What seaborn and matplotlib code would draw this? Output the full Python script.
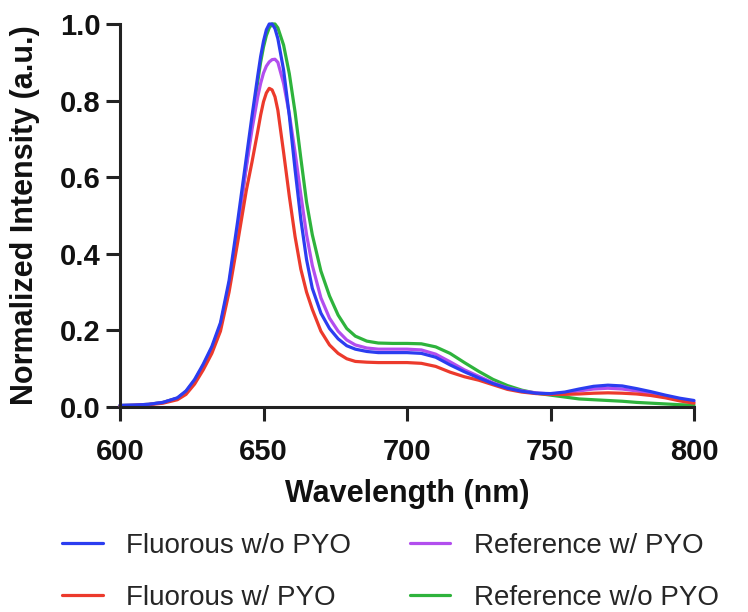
import numpy as np
import pandas as pd
import matplotlib
matplotlib.use("Agg")
import matplotlib.pyplot as plt
import seaborn as sns

wavelength = [600, 605, 610, 615, 620, 623, 626, 629, 632, 635, 638, 641, 644, 646, 648,
              649, 650, 651, 652, 653, 654, 655, 657, 659, 661, 663, 665, 667, 670, 673,
              676, 679, 682, 686, 690, 695, 700, 705, 710, 715, 720, 725, 730, 735, 740,
              745, 750, 755, 760, 765, 770, 775, 780, 785, 790, 795, 800]

fluorous_wo_pyo = [0.004, 0.005, 0.007, 0.012, 0.024, 0.042, 0.072, 0.112, 0.158, 0.220,
                   0.330, 0.485, 0.650, 0.760, 0.865, 0.915, 0.955, 0.985, 1.000, 1.000,
                   0.988, 0.962, 0.880, 0.760, 0.620, 0.490, 0.385, 0.310, 0.245, 0.205,
                   0.178, 0.160, 0.151, 0.145, 0.142, 0.142, 0.142, 0.140, 0.130, 0.110,
                   0.092, 0.076, 0.061, 0.049, 0.041, 0.036, 0.035, 0.039, 0.047, 0.054,
                   0.057, 0.055, 0.048, 0.040, 0.031, 0.023, 0.017]

fluorous_w_pyo = [0.003, 0.004, 0.006, 0.010, 0.019, 0.033, 0.060, 0.097, 0.140, 0.198,
                  0.300, 0.430, 0.565, 0.640, 0.720, 0.762, 0.797, 0.820, 0.832, 0.828,
                  0.810, 0.775, 0.665, 0.550, 0.445, 0.360, 0.300, 0.255, 0.198, 0.162,
                  0.140, 0.126, 0.119, 0.117, 0.116, 0.116, 0.116, 0.114, 0.106, 0.091,
                  0.079, 0.070, 0.058, 0.046, 0.039, 0.035, 0.033, 0.033, 0.034, 0.036,
                  0.037, 0.036, 0.034, 0.030, 0.024, 0.016, 0.010]

reference_w_pyo = [0.004, 0.005, 0.007, 0.012, 0.023, 0.040, 0.069, 0.108, 0.153, 0.213,
                   0.320, 0.470, 0.625, 0.725, 0.810, 0.845, 0.872, 0.890, 0.901, 0.907,
                   0.908, 0.900, 0.845, 0.765, 0.665, 0.555, 0.450, 0.370, 0.285, 0.232,
                   0.198, 0.175, 0.162, 0.154, 0.151, 0.151, 0.151, 0.149, 0.138, 0.118,
                   0.097, 0.080, 0.063, 0.050, 0.042, 0.037, 0.034, 0.037, 0.042, 0.047,
                   0.049, 0.047, 0.042, 0.035, 0.028, 0.020, 0.013]

reference_wo_pyo = [0.004, 0.005, 0.007, 0.012, 0.023, 0.040, 0.069, 0.108, 0.153, 0.213,
                    0.315, 0.465, 0.630, 0.740, 0.850, 0.900, 0.940, 0.970, 0.990, 1.000,
                    1.000, 0.990, 0.945, 0.870, 0.770, 0.650, 0.535, 0.450, 0.355, 0.290,
                    0.240, 0.205, 0.185, 0.172, 0.167, 0.166, 0.166, 0.165, 0.157, 0.140,
                    0.116, 0.093, 0.072, 0.056, 0.044, 0.036, 0.031, 0.026, 0.021, 0.019,
                    0.017, 0.015, 0.012, 0.010, 0.008, 0.006, 0.005]

series_names = ["Fluorous w/o PYO", "Fluorous w/ PYO", "Reference w/ PYO", "Reference w/o PYO"]
series_colors = ["#2B3DF0", "#EC3A2C", "#B24EEE", "#2EB33C"]
x_ticks = [600, 650, 700, 750, 800]
y_ticks = [0.0, 0.2, 0.4, 0.6, 0.8, 1.0]

rows = []
for name, vals in zip(series_names,
                      [fluorous_wo_pyo, fluorous_w_pyo, reference_w_pyo, reference_wo_pyo]):
    for w, v in zip(wavelength, vals):
        rows.append({"Wavelength": w, "Intensity": v, "Sample": name})
df = pd.DataFrame(rows)

sns.set_theme(style="ticks")
plt.rcParams["font.family"] = ["Liberation Sans", "DejaVu Sans"]

fig = plt.figure(figsize=(7.48, 6.12), dpi=100)
left, right = 120 / 748, 694 / 748
bottom, top = 1 - 407 / 612, 1 - 24 / 612
ax = fig.add_axes([left, bottom, right - left, top - bottom])

draw_order = ["Reference w/o PYO", "Reference w/ PYO", "Fluorous w/ PYO", "Fluorous w/o PYO"]
palette = dict(zip(series_names, series_colors))
for name in draw_order:
    sub = df[df["Sample"] == name]
    sns.lineplot(data=sub, x="Wavelength", y="Intensity", color=palette[name],
                 linewidth=2.3, ax=ax, label=name, clip_on=False)

ax.set_xlim(600, 800)
ax.set_ylim(0, 1.0)
ax.set_xticks(x_ticks)
ax.set_yticks(y_ticks)
ax.set_xticklabels([str(t) for t in x_ticks])
ax.set_yticklabels([f"{t:.1f}" for t in y_ticks])
for lab in ax.get_xticklabels() + ax.get_yticklabels():
    lab.set_fontsize(21)
    lab.set_fontweight("bold")
    lab.set_color("#111111")

ax.set_xlabel("Wavelength (nm)", fontsize=22, fontweight="bold", color="#111111", labelpad=10)
ax.set_ylabel("Normalized Intensity (a.u.)", fontsize=22, fontweight="bold", color="#111111", labelpad=14)

sns.despine(ax=ax)
for s in ["left", "bottom"]:
    ax.spines[s].set_linewidth(2.2)
    ax.spines[s].set_color("#222222")
ax.tick_params(axis="both", which="major", length=10, width=2.2, color="#222222")
ax.tick_params(axis="x", pad=12)
ax.tick_params(axis="y", pad=4)

handles, labels = ax.get_legend_handles_labels()
hmap = dict(zip(labels, handles))
ax.get_legend().remove()
leg_handles = [hmap[n] for n in series_names]
fig.legend(leg_handles, series_names, loc="center", bbox_to_anchor=(0.522, 0.0654), ncol=2,
           frameon=False, fontsize=20, handlelength=1.45, handletextpad=0.85,
           columnspacing=2.1, labelspacing=0.95, borderpad=0)

fig.savefig("out.png", dpi=100)
